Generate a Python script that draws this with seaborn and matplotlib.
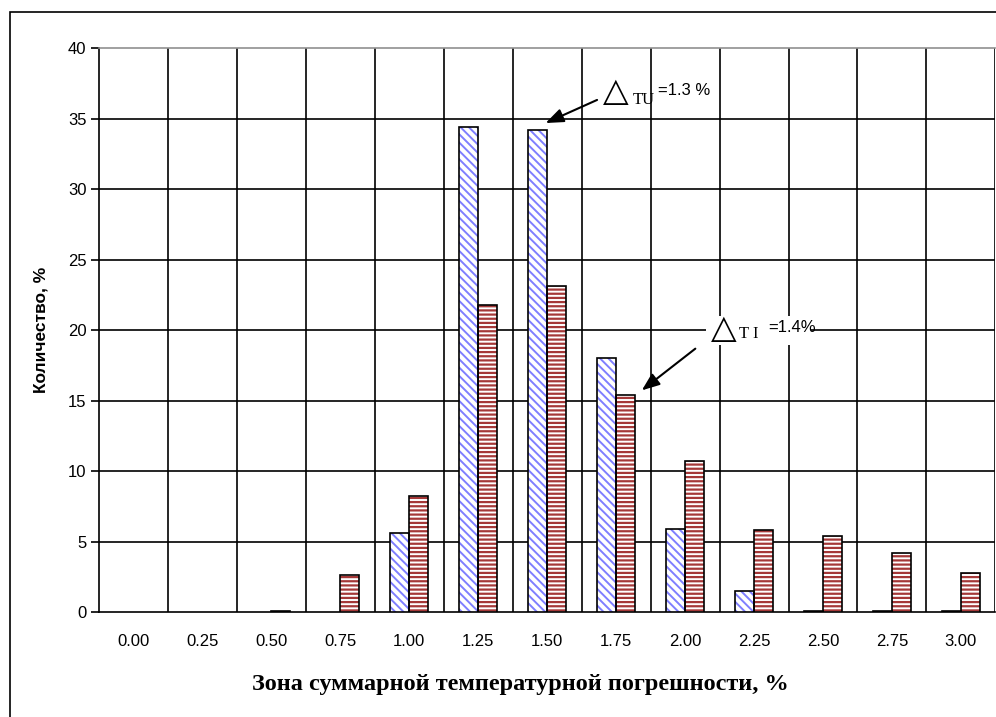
import matplotlib
matplotlib.use("Agg")
import matplotlib.pyplot as plt
from matplotlib.patches import Rectangle
import seaborn as sns
import pandas as pd

zones = ["0.00", "0.25", "0.50", "0.75", "1.00", "1.25", "1.50",
         "1.75", "2.00", "2.25", "2.50", "2.75", "3.00"]
tu_values = [0.0, 0.0, 0.0, 0.0, 5.6, 34.4, 34.2, 18.0, 5.9, 1.5, 0.1, 0.1, 0.1]
ti_values = [0.0, 0.0, 0.1, 2.6, 8.2, 21.8, 23.1, 15.4, 10.7, 5.8, 5.4, 4.2, 2.8]
series_names = ["TU", "TI"]
y_ticks = [0, 5, 10, 15, 20, 25, 30, 35, 40]

df = pd.DataFrame({
    "zone": zones * 2,
    "series": [series_names[0]] * len(zones) + [series_names[1]] * len(zones),
    "value": tu_values + ti_values,
})

sns.set_theme(style="white")
plt.rcParams["font.family"] = ["Liberation Sans", "DejaVu Sans"]
plt.rcParams.update({"text.color": "black", "axes.labelcolor": "black",
                     "xtick.color": "black", "ytick.color": "black"})

fig = plt.figure(figsize=(9.96, 7.17), dpi=100)
fig.patch.set_facecolor("white")
ax = fig.add_axes([0.0994, 0.1464, 0.9, 0.7866])

sns.barplot(data=df, x="zone", y="value", hue="series", order=zones,
            hue_order=series_names, width=0.55, palette=["white", "white"],
            legend=False, ax=ax, zorder=3)

n = len(zones)
styles = {0: ("\\\\\\\\", "#7f7fff", 1.4), 1: ("----", "#a53838", 1.6)}
for k, patch in enumerate(ax.patches[:2 * n]):
    hatch, hcol, hlw = styles[k // n]
    patch.set_hatch(hatch)
    patch.set_edgecolor(hcol)
    patch.set_linewidth(0)
    patch.set_facecolor("white")
    if hasattr(patch, "set_hatch_linewidth"):
        patch.set_hatch_linewidth(hlw)
    else:
        patch._hatch_linewidth = hlw
    if patch.get_height() > 0:
        ax.add_patch(Rectangle(patch.get_xy(), patch.get_width(), patch.get_height(),
                               fill=False, edgecolor="black", linewidth=1.2, zorder=4))

ax.set_xlim(-0.5, n - 0.5)
ax.set_ylim(0, 40)
ax.set_yticks(y_ticks)
ax.set_yticklabels([str(v) for v in y_ticks], fontsize=12)
ax.set_xticks(range(n))
ax.set_xticklabels(zones, fontsize=12)
ax.set_xticks([i + 0.5 for i in range(-1, n)], minor=True)
ax.tick_params(axis="x", which="major", length=0, pad=16)
ax.tick_params(axis="x", which="minor", length=6, width=1.2, color="black", direction="out")
ax.tick_params(axis="y", length=6, width=1.2, color="black", direction="out", left=True, pad=3)

# grid: horizontal at every 5, vertical at zone boundaries
for v in y_ticks[1:-1]:
    ax.axhline(v, color="black", linewidth=1.2, zorder=1)
for i in range(n):
    ax.axvline(i + 0.5, color="black", linewidth=1.2, zorder=1)

for side in ["left", "bottom"]:
    ax.spines[side].set_color("black")
    ax.spines[side].set_linewidth(1.2)
ax.spines["top"].set_color("#909090")
ax.spines["top"].set_linewidth(1.2)
ax.spines["right"].set_visible(False)

ax.set_xlabel("Зона суммарной температурной погрешности, %", fontsize=17.5,
              fontweight="bold", family=["Liberation Serif", "DejaVu Serif"])
ax.xaxis.set_label_coords(0.47, -0.11)
ax.set_ylabel("Количество, %", fontsize=12.5, fontweight="bold")
ax.yaxis.set_label_coords(-0.056, 0.5)

arrow_style = dict(arrowstyle="-|>,head_length=0.9,head_width=0.35", color="black", lw=1.5)

# first annotation: ΔTU
ax.annotate("", xy=(5.94, 34.6), xytext=(6.76, 36.4), arrowprops=arrow_style, zorder=6)
ax.text(7.0, 36.9, "△", fontsize=24, ha="center", va="center", zorder=6,
        family=["DejaVu Sans"])
ax.text(7.40, 36.35, "TU", fontsize=12, ha="center", va="center",
        family=["Liberation Serif"], zorder=6)
ax.text(7.61, 37.0, "=1.3 %", fontsize=12, ha="left", va="center", zorder=6)

# second annotation: ΔTI, on a white label box
ax.add_patch(Rectangle((8.30, 18.95), 1.53, 2.05, facecolor="white",
                       edgecolor="none", zorder=2))
ax.annotate("", xy=(7.34, 15.6), xytext=(8.18, 18.8), arrowprops=arrow_style, zorder=6)
ax.text(8.56, 20.1, "△", fontsize=24, ha="center", va="center", zorder=6,
        family=["DejaVu Sans"])
ax.text(8.92, 19.75, "T I", fontsize=12, ha="center", va="center",
        family=["Liberation Serif"], zorder=6)
ax.text(9.20, 20.2, "=1.4%", fontsize=12, ha="left", va="center", zorder=6)

# outer chart frame
fig.add_artist(Rectangle((10 / 996, -0.01), 1.0, 1 - 12 / 717 + 0.01,
                         transform=fig.transFigure, fill=False,
                         edgecolor="black", linewidth=1.2))

fig.savefig("out.png", dpi=100, facecolor="white")
